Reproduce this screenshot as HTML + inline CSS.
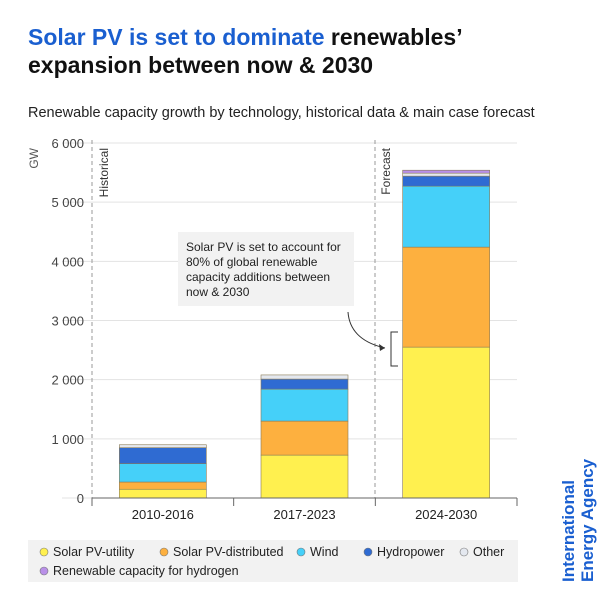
<!DOCTYPE html>
<html><head><meta charset="utf-8"><style>
body{margin:0;background:#fff;font-family:"Liberation Sans",sans-serif;}
svg text{font-family:"Liberation Sans",sans-serif;}
</style></head><body>
<svg id="c" width="609" height="609" viewBox="0 0 609 609">
<text x="28" y="45" font-size="23" font-weight="bold"><tspan fill="#1a5fd0">Solar PV is set to dominate</tspan><tspan fill="#111"> renewables’</tspan></text>
<text x="28" y="73" font-size="23" font-weight="bold" fill="#111">expansion between now &amp; 2030</text>
<text x="28" y="117" font-size="14.5" fill="#222">Renewable capacity growth by technology, historical data &amp; main case forecast</text>
<text transform="translate(38,148) rotate(-90)" font-size="12" fill="#555" text-anchor="end">GW</text>
<g id="grid"></g><g id="bars"></g>
<line x1="92" x2="92" y1="140" y2="498" stroke="#999" stroke-dasharray="4,3"/>
<line x1="375" x2="375" y1="140" y2="498" stroke="#999" stroke-dasharray="4,3"/>
<text transform="translate(108,148) rotate(-90)" font-size="12" fill="#333" text-anchor="end">Historical</text>
<text transform="translate(390,148) rotate(-90)" font-size="12" fill="#333" text-anchor="end">Forecast</text>
<g>
<rect x="178" y="232" width="176" height="74" fill="#f2f2f2"/>
<text font-size="12" fill="#222"><tspan x="186" y="251">Solar PV is set to account for</tspan><tspan x="186" y="266">80% of global renewable</tspan><tspan x="186" y="281">capacity additions between</tspan><tspan x="186" y="296">now &amp; 2030</tspan></text>
<path d="M348 312 Q350 340 385 348" fill="none" stroke="#333"/>
<path d="M385 348 l-6 -4 l1 7z" fill="#333"/>
<path d="M398 332 h-7 v34 h7" fill="none" stroke="#333"/>
</g>
<g id="xaxis"></g>
<g>
<rect x="28" y="540" width="490" height="42" fill="#f2f2f2"/>
<g id="leg"></g>
</g>
<text transform="translate(574,582) rotate(-90)" font-size="17" font-weight="bold" fill="#1a5fd0">International</text>
<text transform="translate(593,582) rotate(-90)" font-size="17" font-weight="bold" fill="#1a5fd0">Energy Agency</text>
</svg>
<script>
const categories=["2010-2016","2017-2023","2024-2030"];
const seriesNames=["Solar PV-utility","Solar PV-distributed","Wind","Hydropower","Other","Renewable capacity for hydrogen"];
const solarUtility=[148,725,2550];
const solarDistributed=[122,575,1690];
const wind=[310,540,1030];
const hydro=[270,170,170];
const other=[50,70,50];
const hydrogen=[0,0,50];
const yTicks=[0,1000,2000,3000,4000,5000,6000];
const yTickLabels=["0","1 000","2 000","3 000","4 000","5 000","6 000"];
const colors=["#fff04f","#fdb03f","#45d0f9","#2f6bd2","#e4e8ef","#b990e8"];
const NS="http://www.w3.org/2000/svg";
const y0=498,y1=143,x0=92,x1=517;
const y=v=>y0-(v/6000)*(y0-y1);
const band=(x1-x0)/categories.length;
const xc=i=>x0+band*(i+0.5);
function mk(t,a,p){const e=document.createElementNS(NS,t);for(const k in a)e.setAttribute(k,a[k]);p.appendChild(e);return e;}
const grid=document.getElementById('grid');
yTicks.forEach((v,i)=>{
 const l=mk('line',{x1:62,x2:x1,y1:y(v),y2:y(v),stroke:'#e3e3e3'},grid);
 
 
 const t=mk('text',{x:84,y:y(v)+5,'font-size':13,fill:'#444','text-anchor':'end'},grid);
 t.textContent=yTickLabels[i];
 
 
});
const series=[solarUtility,solarDistributed,wind,hydro,other,hydrogen];
const bars=document.getElementById('bars');
categories.forEach((c,i)=>{
 let acc=0;
 series.forEach((s,k)=>{
  const v=s[i]; if(v<=0)return;
  const r=mk('rect',{x:xc(i)-43.5,y:y(acc+v),width:87,height:y(acc)-y(acc+v),fill:colors[k],stroke:'#8a7a55','stroke-width':0.6},bars);
  
  
  acc+=v;
 });
});
const xa=document.getElementById('xaxis');
const ax=mk('line',{x1:x0,x2:x1,y1:y0,y2:y0,stroke:'#666'},xa);


for(let i=0;i<=categories.length;i++){
 const tk=mk('line',{x1:x0+band*i,x2:x0+band*i,y1:y0,y2:y0+8,stroke:'#666'},xa);
 
 
}
categories.forEach((c,i)=>{
 const t=mk('text',{x:xc(i),y:519,'font-size':13,fill:'#222','text-anchor':'middle'},xa);
 t.textContent=c;
 
 
});
const leg=document.getElementById('leg');
const pos=[[40,556],[160,556],[297,556],[364,556],[460,556],[40,575]];
seriesNames.forEach((n,k)=>{
 const g=mk('g',{},leg);
 
 
 mk('circle',{cx:pos[k][0]+4,cy:pos[k][1]-4,r:4,fill:colors[k],stroke:'#777','stroke-width':0.6},g);
 const t=mk('text',{x:pos[k][0]+13,y:pos[k][1],'font-size':12.5,fill:'#222'},g);
 t.textContent=n;
});
</script>
</body></html>
